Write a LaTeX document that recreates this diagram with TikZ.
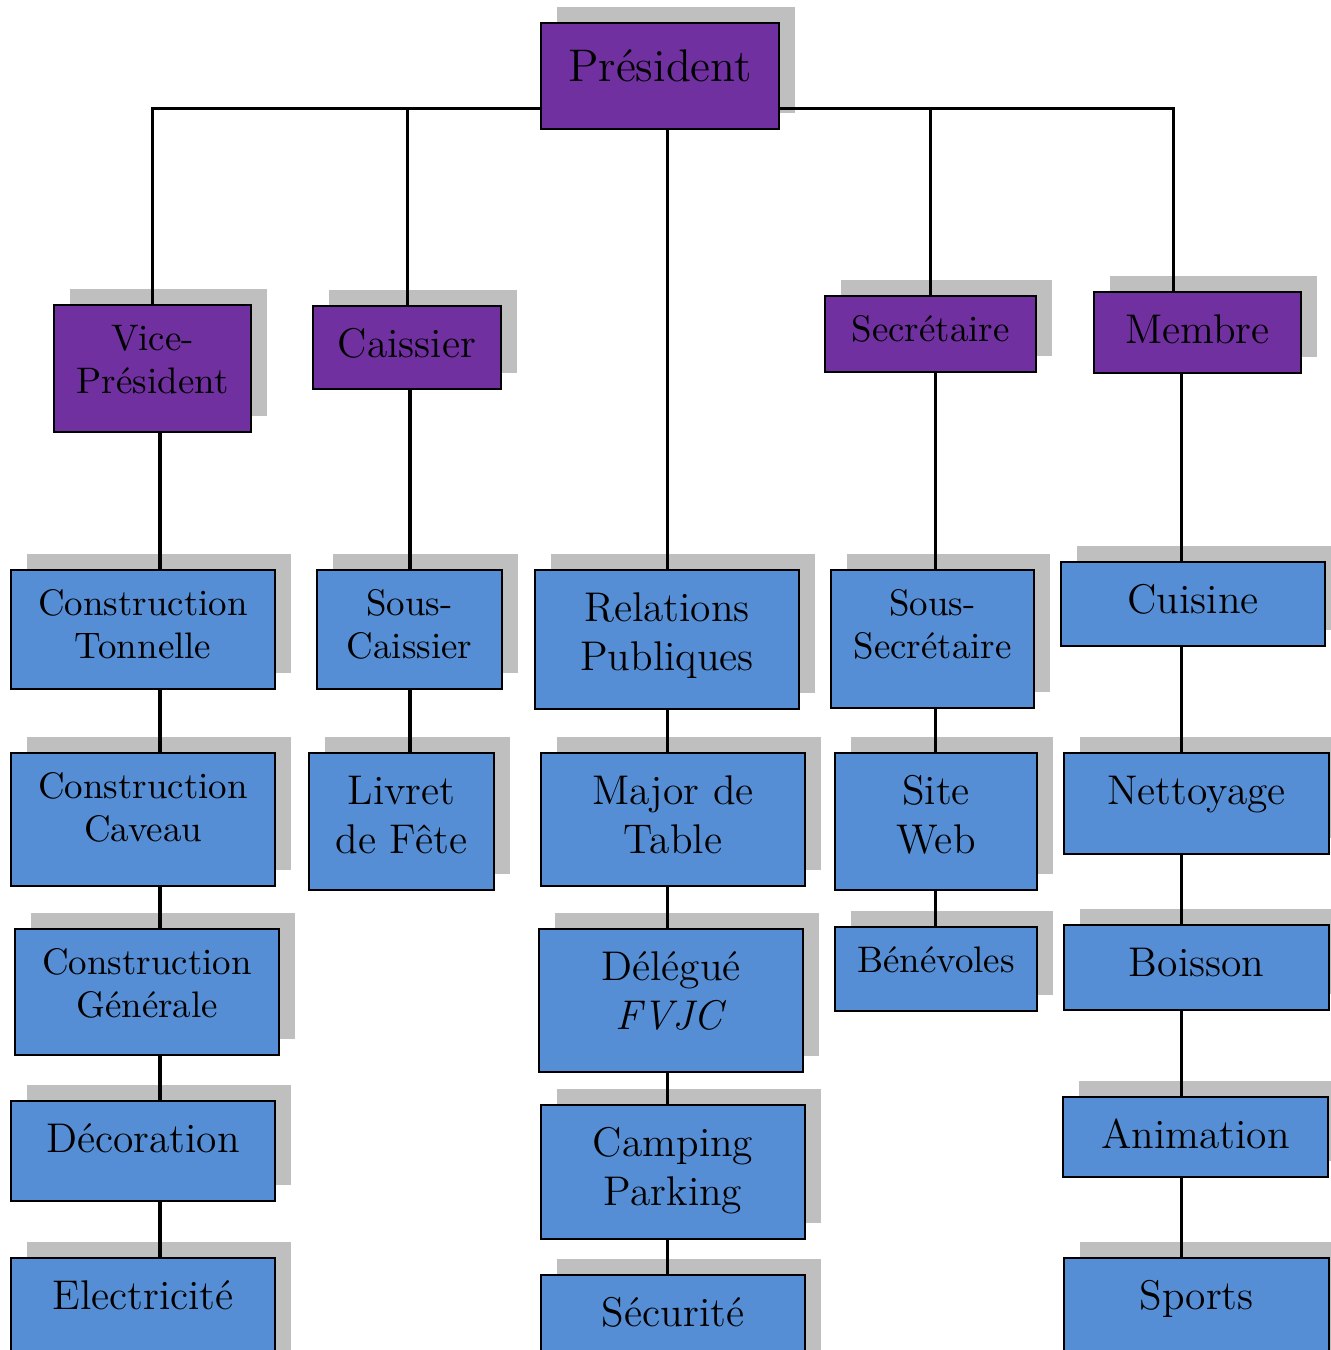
\documentclass[tikz,border=0pt]{standalone}
\usepackage{tikz}
\usetikzlibrary{shadows}
\definecolor{violet}{HTML}{7030A0}
\definecolor{bleu}{HTML}{558ED5}
\definecolor{ombre}{HTML}{BFBFBF}

\begin{document}
\begin{tikzpicture}[x=0.01cm,y=-0.01cm,
                    link/.style={line width=0.03cm},
                    every edge/.style={draw,link}]
  \tikzstyle{box}=[draw=black,line width=0.02cm,inner sep=0pt,align=center,anchor=north west,
                   drop shadow={shadow xshift=0.16cm,shadow yshift=0.16cm,fill=ombre,opacity=1}]
  \tikzstyle{chef}=[box,fill=violet]
  \tikzstyle{poste}=[box,fill=bleu]
  \tikzstyle{big}=[font=\fontsize{13}{16}\selectfont,text height=0.58cm]
  \tikzstyle{mid}=[font=\fontsize{11.8}{14}\selectfont,text height=0.51cm]
  \tikzstyle{small}=[font=\fontsize{10.5}{12.5}\selectfont,text height=0.45cm]
  \tikzset{sz/.style 2 args={text width=#1cm,text depth=#2cm}}

  \clip (0,0) rectangle (1331,1350);

  \node[chef,big,sz={2.38}{0.48}]   (pres) at (540,22)   {Président};
  \node[chef,small,sz={1.97}{0.82}] (vp)   at (53,304)   {Vice-\\Président};
  \node[chef,mid,sz={1.88}{0.32}]   (cs)   at (312,305)  {Caissier};
  \node[chef,small,sz={2.11}{0.31}] (sc)   at (824,295)  {Secrétaire};
  \node[chef,mid,sz={2.07}{0.30}]   (mb)   at (1093,291) {Membre};

  \node[poste,small,sz={2.64}{0.74}] (ct)  at (10,569)   {Construction\\Tonnelle};
  \node[poste,small,sz={1.85}{0.74}] (ss)  at (316,569)  {Sous-\\Caissier};
  \node[poste,mid,sz={2.64}{0.88}]   (rp)  at (534,569)  {Relations\\Publiques};
  \node[poste,small,sz={2.03}{0.93}] (sse) at (830,569)  {Sous-\\Secrétaire};
  \node[poste,mid,sz={2.64}{0.33}]   (cu)  at (1060,561) {Cuisine};

  \node[poste,small,sz={2.64}{0.88}] (cc)  at (10,752)   {Construction\\Caveau};
  \node[poste,mid,sz={1.85}{0.86}]   (lf)  at (308,752)  {Livret\\de Fête};
  \node[poste,mid,sz={2.64}{0.82}]   (mt)  at (540,752)  {Major de\\Table};
  \node[poste,mid,sz={2.02}{0.86}]   (sw)  at (834,752)  {Site\\Web};
  \node[poste,mid,sz={2.65}{0.50}]   (nt)  at (1063,752) {Nettoyage};

  \node[poste,small,sz={2.64}{0.81}] (cg)  at (14,928)   {Construction\\Générale};
  \node[poste,mid,sz={2.64}{0.92}]   (dl)  at (538,928)  {Délégué\\\textit{FVJC}};
  \node[poste,small,sz={2.02}{0.39}] (bn)  at (834,926)  {Bénévoles};
  \node[poste,mid,sz={2.65}{0.34}]   (bo)  at (1063,924) {Boisson};

  \node[poste,mid,sz={2.64}{0.49}]   (de)  at (10,1100)  {Décoration};
  \node[poste,mid,sz={2.64}{0.83}]   (cp)  at (540,1104) {Camping\\Parking};
  \node[poste,mid,sz={2.65}{0.29}]   (an)  at (1062,1096) {Animation};

  \node[poste,mid,sz={2.64}{0.69}]   (el)  at (10,1257)  {Electricité};
  \node[poste,mid,sz={2.64}{0.50}]   (se)  at (540,1274) {Sécurité};
  \node[poste,mid,sz={2.65}{0.69}]   (sp)  at (1063,1257) {Sports};

  \coordinate (bar)  at (0,108);
  \coordinate (lcol) at (160,0);
  \coordinate (ccol) at (410,0);
  \coordinate (rcol) at (667,0);
  \coordinate (scol) at (935,0);
  \coordinate (mcol) at (1181,0);

  \draw[link] (vp.north) |- (pres.west |- bar);
  \draw[link] ([xshift=-0.245cm]mb.north) |- (pres.east |- bar);
  \draw[link] (cs.north) -- (cs.north |- bar);
  \draw[link] (sc.north) -- (sc.north |- bar);

  \path (vp.south -| lcol)   edge (ct.north -| lcol)
        (ct.south -| lcol)   edge (cc.north -| lcol)
        (cc.south -| lcol)   edge (cg.north -| lcol)
        (cg.south -| lcol)   edge (de.north -| lcol)
        (de.south -| lcol)   edge (el.north -| lcol)
        (cs.south -| ccol)   edge (ss.north -| ccol)
        (ss.south -| ccol)   edge (lf.north -| ccol)
        (pres.south -| rcol) edge (rp.north -| rcol)
        (rp.south -| rcol)   edge (mt.north -| rcol)
        (mt.south -| rcol)   edge (dl.north -| rcol)
        (dl.south -| rcol)   edge (cp.north -| rcol)
        (cp.south -| rcol)   edge (se.north -| rcol)
        (sc.south -| scol)   edge (sse.north -| scol)
        (sse.south -| scol)  edge (sw.north -| scol)
        (sw.south -| scol)   edge (bn.north -| scol)
        (mb.south -| mcol)   edge (cu.north -| mcol)
        (cu.south -| mcol)   edge (nt.north -| mcol)
        (nt.south -| mcol)   edge (bo.north -| mcol)
        (bo.south -| mcol)   edge (an.north -| mcol)
        (an.south -| mcol)   edge (sp.north -| mcol);
\end{tikzpicture}
\end{document}
